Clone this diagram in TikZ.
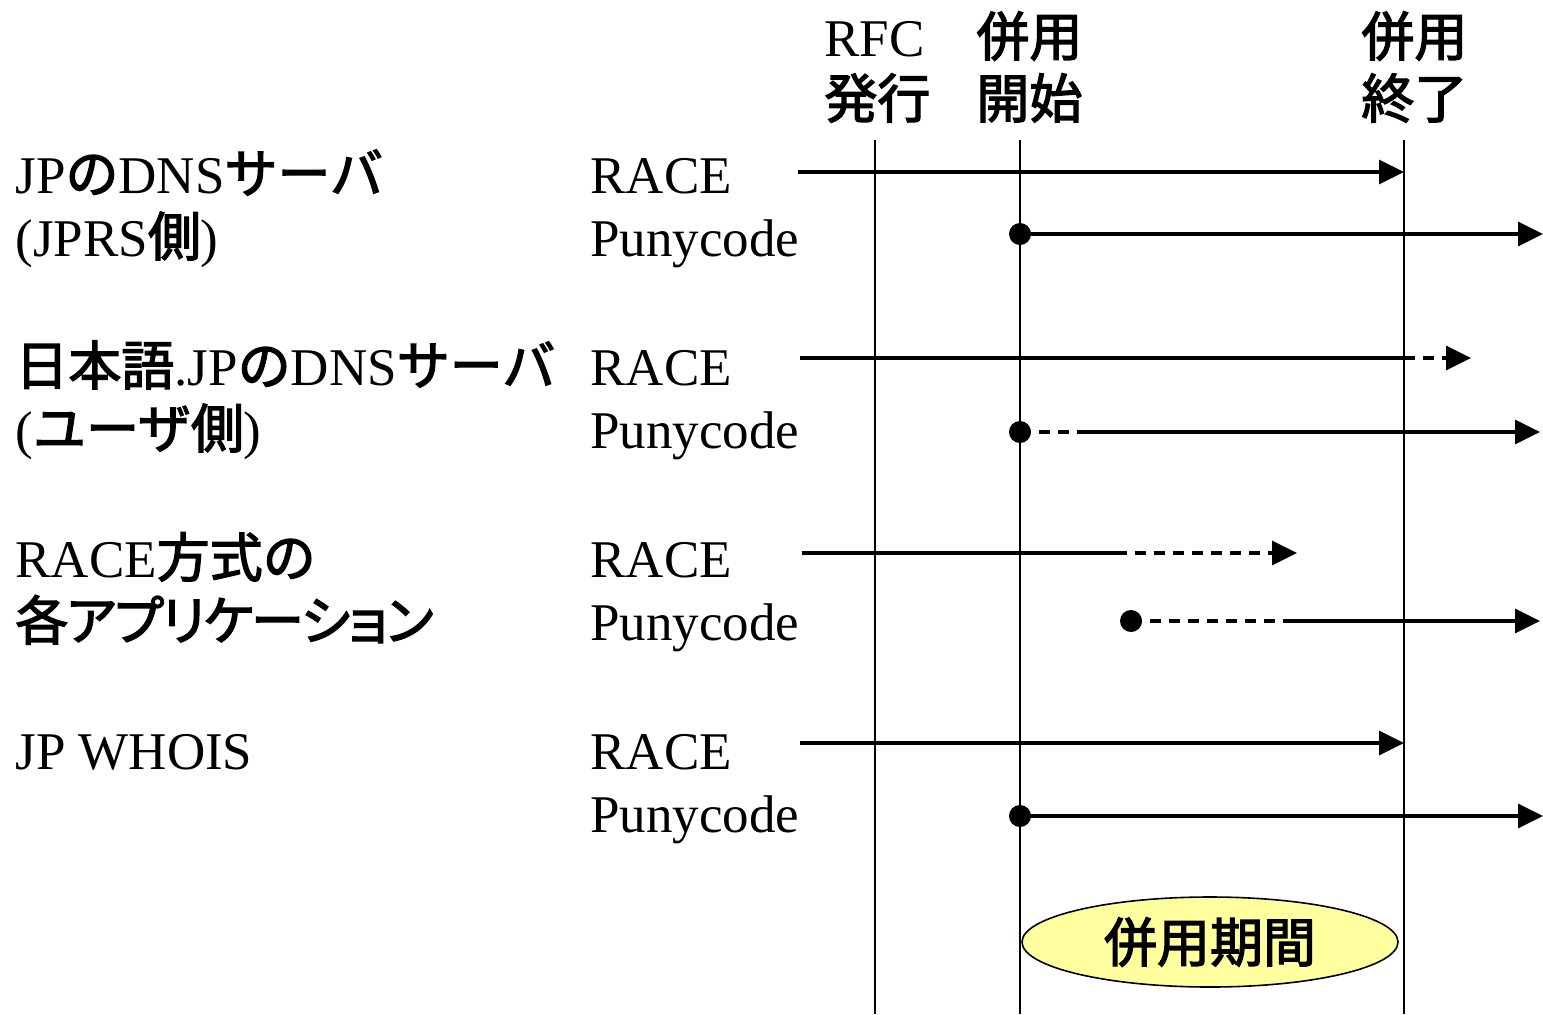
\documentclass[tikz,border=0pt]{standalone}
\usepackage{fontspec}
\setmainfont{Liberation Serif}
\newfontfamily\cjk{Noto Sans CJK JP}[FakeBold=2.5]
\newfontfamily\cjkp{Noto Sans CJK JP}[FakeBold=2.5,RawFeature=+palt,LetterSpace=-3]
\usetikzlibrary{arrows.meta,shapes.geometric}
\definecolor{lightyel}{RGB}{255,255,160}
\tikzset{
  lbl/.style={anchor=base west,inner sep=0pt,font=\fontsize{26.5}{30}\selectfont},
  vline/.style={line width=1pt},
  flow/.style={line width=1.7pt,-{Triangle[length=12.5pt,width=12pt]}},
  flowplain/.style={line width=1.7pt},
  flowdash/.style={line width=1.7pt,dash pattern=on 5.5pt off 4pt},
  dot/.style={circle,fill=black,inner sep=0pt,minimum size=11pt},
}
\begin{document}
\begin{tikzpicture}[x=0.5pt,y=-0.5pt]
\useasboundingbox (0,0) rectangle (1543,1014);

% vertical lines
\coordinate (v1t) at (875,140); \coordinate (v1b) at (875,1014);
\coordinate (v2t) at (1020,140); \coordinate (v2b) at (1020,1014);
\coordinate (v3t) at (1404,140); \coordinate (v3b) at (1404,1014);
\draw[vline] (v1t) -- (v1b);
\draw[vline] (v2t) -- (v2b);
\draw[vline] (v3t) -- (v3b);

% top labels
\node[lbl] (rfc) at (824,56) {RFC};
\node[lbl] (hakko) at (824,118) {\cjk 発行};
\node[lbl] (heiyo1) at (976,56) {\cjk 併用};
\node[lbl] (kaishi) at (976,118) {\cjk 開始};
\node[lbl] (heiyo2) at (1361,56) {\cjk 併用};
\node[lbl] (shuryo) at (1361,118) {\cjk 終了};

% left labels
\node[lbl] (l1a) at (15,193) {JP{\cjk の}DNS{\cjk サーバ}};
\node[lbl] (l1b) at (15,256) {(JPRS{\cjk 側})};
\node[lbl] (l2a) at (15,385) {{\cjk 日本語}.JP{\cjk の}DNS{\cjk サーバ}};
\node[lbl] (l2b) at (15,448) {({\cjk ユーザ側})};
\node[lbl] (l3a) at (15,577) {RACE{\cjk 方式の}};
\node[lbl] (l3b) at (15,640) {\cjkp 各アプリケーション};
\node[lbl] (l4a) at (15,769) {JP WHOIS};

% protocol labels
\node[lbl] (r1) at (590,193) {RACE};
\node[lbl] (p1) at (590,256) {Punycode};
\node[lbl] (r2) at (590,385) {RACE};
\node[lbl] (p2) at (590,448) {Punycode};
\node[lbl] (r3) at (590,577) {RACE};
\node[lbl] (p3) at (590,640) {Punycode};
\node[lbl] (r4) at (590,769) {RACE};
\node[lbl] (p4) at (590,832) {Punycode};

% row 1
\coordinate (r1s) at (798,172); \coordinate (r1e) at (1404,172);
\draw[flow] (r1s) -- (r1e);
\node[dot] (d1) at (1020,234) {};
\coordinate (p1e) at (1543,234);
\draw[flow] (d1.center) -- (p1e);

% row 2
\coordinate (r2s) at (800,358); \coordinate (r2m) at (1404,358); \coordinate (r2e) at (1471,358);
\draw[flowplain] (r2s) -- (r2m);
\draw[flowdash,-{Triangle[length=12.5pt,width=12pt]}] (r2m) -- (r2e);
\node[dot] (d2) at (1020,432) {};
\coordinate (p2m) at (1085,432); \coordinate (p2e) at (1540,432);
\draw[flowdash] (d2.center) -- (p2m);
\draw[flow] (p2m) -- (p2e);

% row 3
\coordinate (r3s) at (802,553); \coordinate (r3m) at (1116,553); \coordinate (r3e) at (1297,553);
\draw[flowplain] (r3s) -- (r3m);
\draw[flowdash,-{Triangle[length=12.5pt,width=12pt]}] (r3m) -- (r3e);
\node[dot] (d3) at (1131,621) {};
\coordinate (p3m) at (1284,621); \coordinate (p3e) at (1540,621);
\draw[flowdash] (d3.center) -- (p3m);
\draw[flow] (p3m) -- (p3e);

% row 4
\coordinate (r4s) at (800,743); \coordinate (r4e) at (1404,743);
\draw[flow] (r4s) -- (r4e);
\node[dot] (d4) at (1020,816) {};
\coordinate (p4e) at (1543,816);
\draw[flow] (d4.center) -- (p4e);

% ellipse
\node[ellipse,draw,line width=0.8pt,fill=lightyel,minimum width=188pt,minimum height=45pt,inner sep=0pt,font=\fontsize{26.5}{30}\selectfont\cjk] (period) at (1210,942) {併用期間};
\end{tikzpicture}
\end{document}
